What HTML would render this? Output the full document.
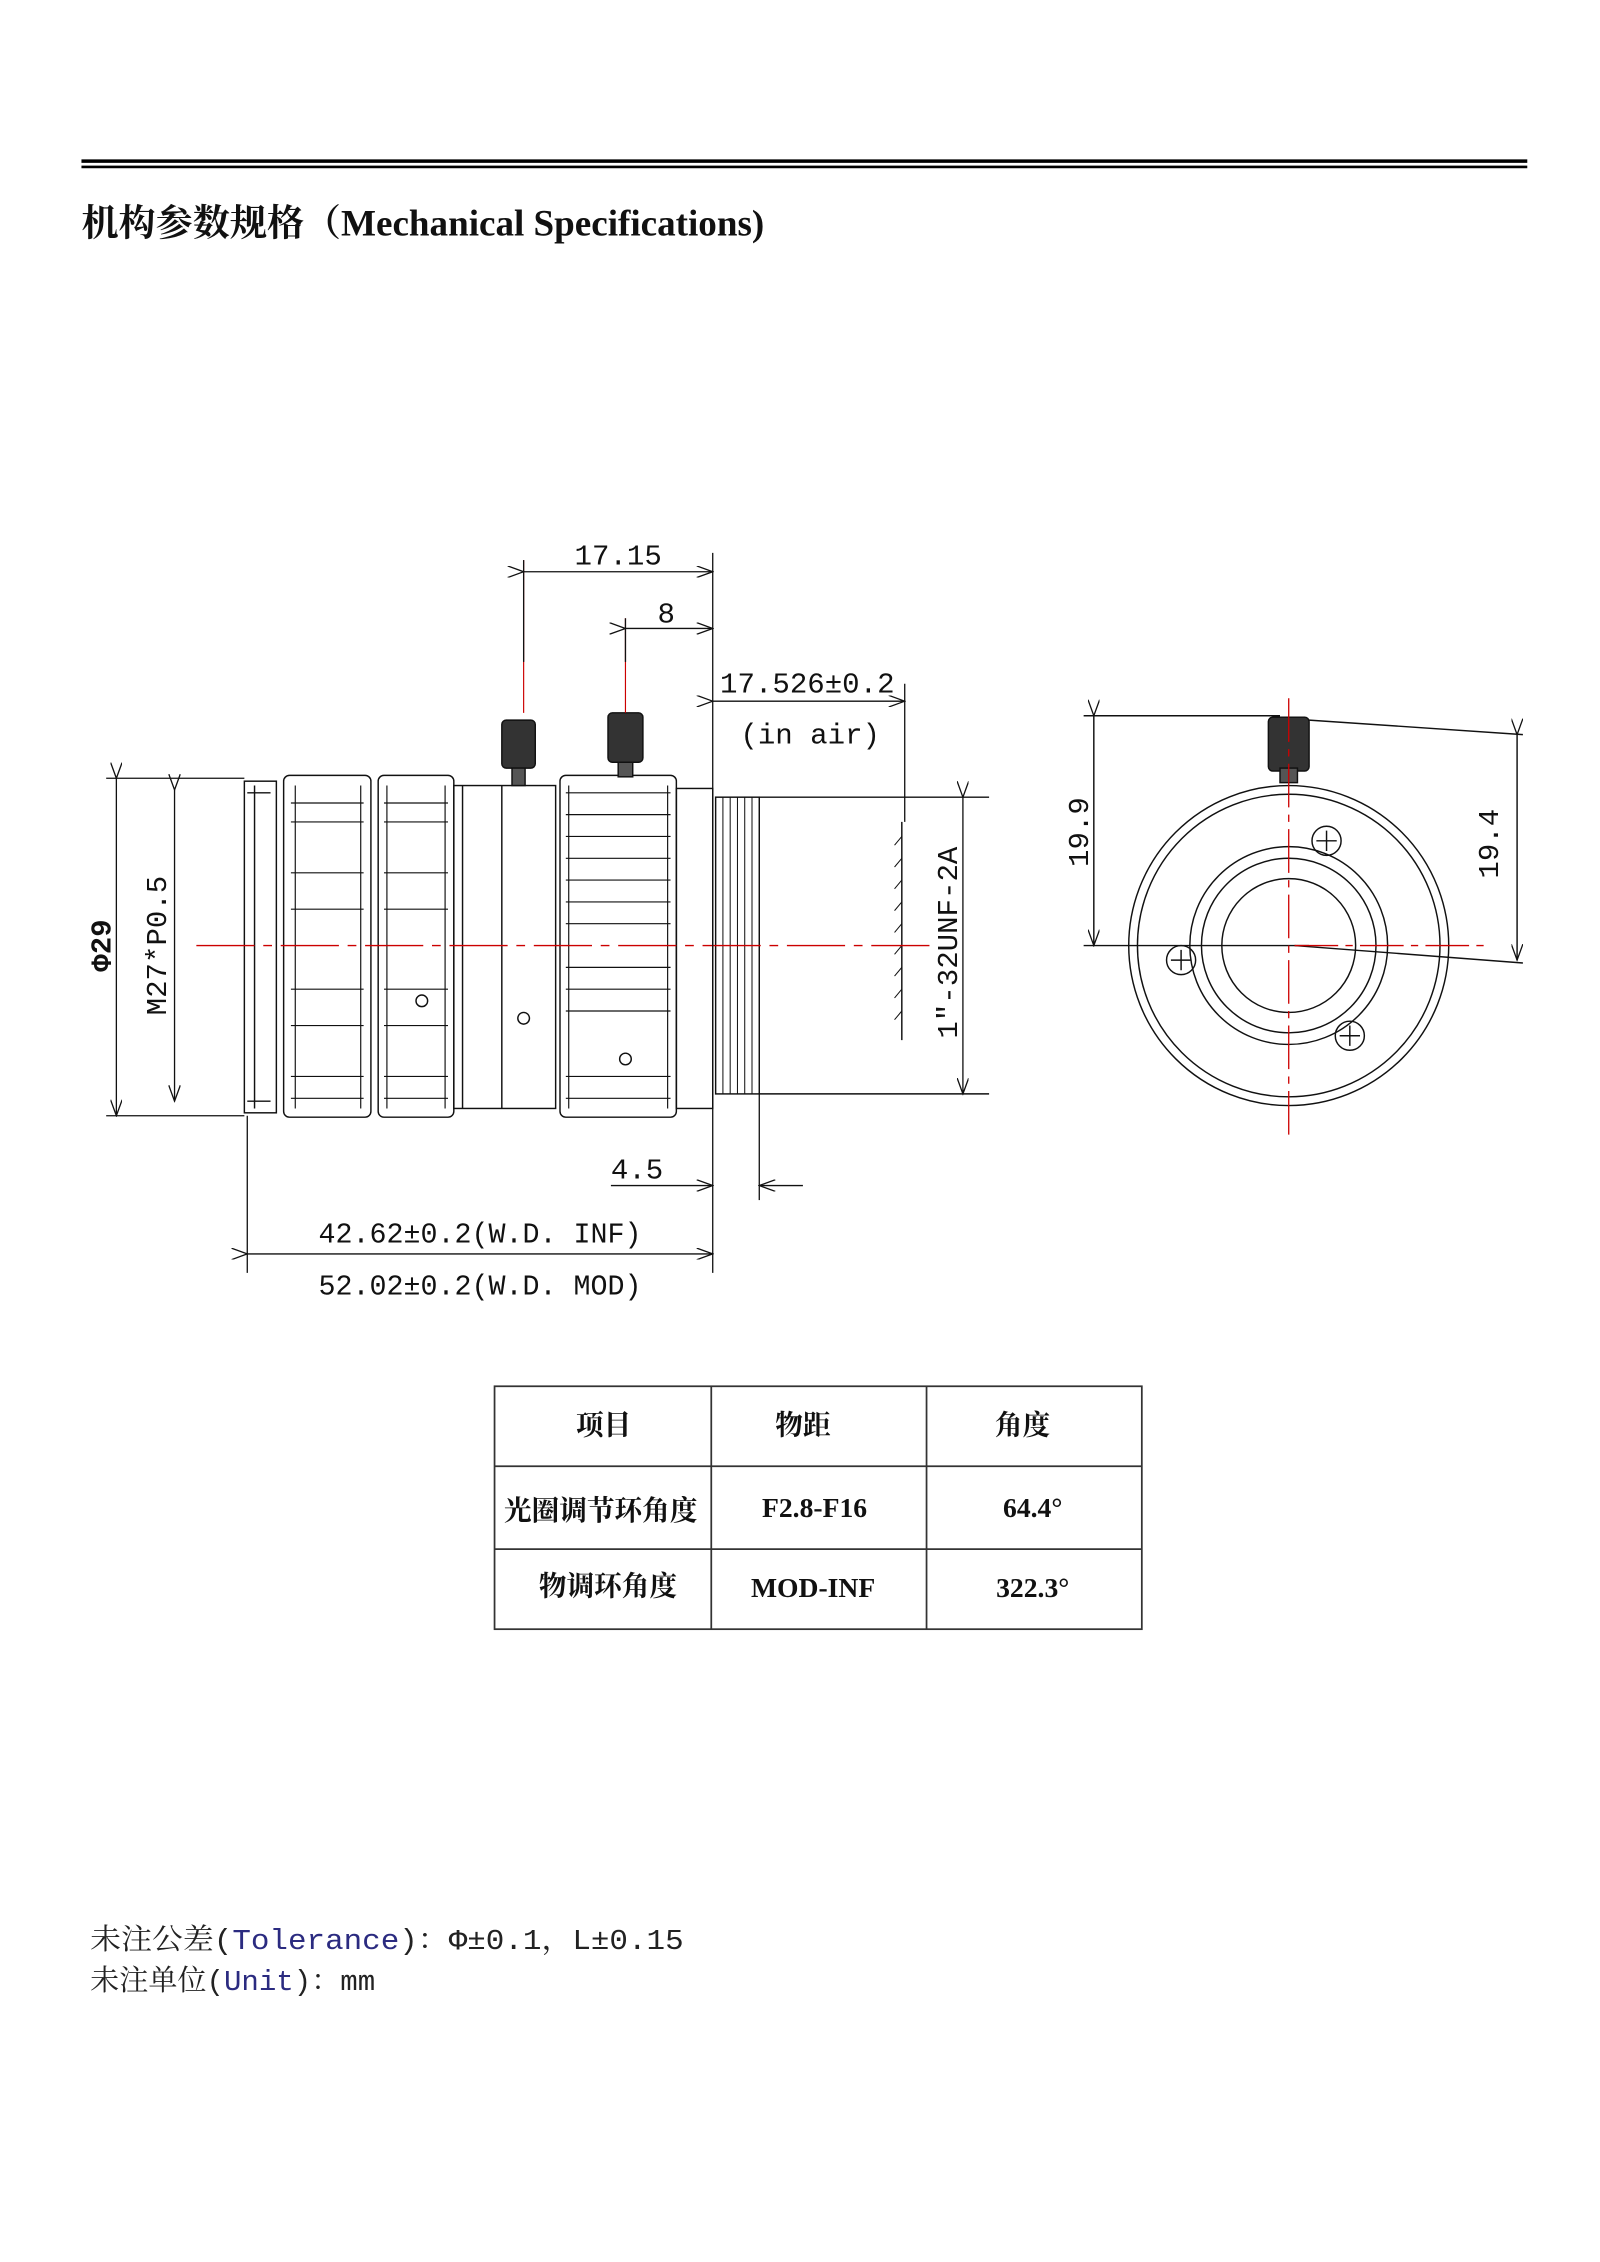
<!DOCTYPE html>
<html><head><meta charset="utf-8">
<style>
html,body{margin:0;padding:0;background:#fff;}
svg{display:block;}
.d{font-family:"Liberation Mono","DejaVu Sans Mono",monospace;fill:#111;}
.c{font-family:"Liberation Serif","Noto Serif CJK SC",serif;font-weight:bold;fill:#111;}
</style></head>
<body>
<svg width="1600" height="2262" viewBox="0 0 1100 1555" xmlns="http://www.w3.org/2000/svg">
<defs>
<marker id="a" markerWidth="12" markerHeight="8" refX="11" refY="4" orient="auto" markerUnits="userSpaceOnUse">
<path d="M0,0 L11,4 L0,8" fill="none" stroke="#111" stroke-width="0.9"/></marker>
</defs>
<rect x="56" y="109.5" width="994" height="2.4" fill="#000"/>
<rect x="56" y="113.8" width="994" height="1.8" fill="#000"/>
<text x="56" y="162" class="c" font-size="25.5">机构参数规格（Mechanical Specifications)</text>

<g stroke="#111" stroke-width="1" fill="none">
<rect x="168" y="537" width="22" height="228"/>
<line x1="175" y1="540" x2="175" y2="762"/>
<path d="M170,545 L186,545 M170,757 L186,757"/>
<rect x="195" y="533" width="60" height="235" rx="4"/>
<rect x="260" y="533" width="52" height="235" rx="4"/>
<g stroke-width="0.8">
<path d="M200,552 H250 M200,565 H250 M200,600 H250 M200,625 H250 M200,680 H250 M200,705 H250 M200,740 H250 M200,755 H250"/>
<path d="M264,552 H308 M264,565 H308 M264,600 H308 M264,625 H308 M264,680 H308 M264,705 H308 M264,740 H308 M264,755 H308"/>
<path d="M203,540 V762 M248,540 V762 M266,540 V762 M306,540 V762"/>
</g>
<rect x="312" y="540" width="70" height="222"/>
<line x1="345" y1="540" x2="345" y2="762"/>
<line x1="318" y1="540" x2="318" y2="762"/>
<rect x="385" y="533" width="80" height="235" rx="4"/>
<g stroke-width="0.8">
<path d="M389,545 H461 M389,560 H461 M389,575 H461 M389,590 H461 M389,605 H461 M389,620 H461 M389,635 H461 M389,665 H461 M389,680 H461 M389,695 H461 M389,740 H461 M389,755 H461"/>
<path d="M391,540 V762 M459,540 V762"/>
</g>
<rect x="465" y="542" width="25" height="220"/>
<rect x="492" y="548" width="30" height="204"/>
<path d="M497,548 V752 M502,548 V752 M507,548 V752 M512,548 V752 M517,548 V752" stroke-width="0.7"/>
<line x1="522" y1="548" x2="680" y2="548"/>
<line x1="522" y1="752" x2="680" y2="752"/>
<circle cx="290" cy="688" r="4"/><circle cx="360" cy="700" r="4"/><circle cx="430" cy="728" r="4"/>
<rect x="345" y="495" width="23" height="33" rx="3" fill="#333"/>
<rect x="352" y="528" width="9" height="12" fill="#555"/>
<rect x="418" y="490" width="24" height="34" rx="3" fill="#333"/>
<rect x="425" y="524" width="10" height="10" fill="#555"/>
<line x1="620" y1="565" x2="620" y2="715"/>
<path d="M620,575 l-5,6 M620,590 l-5,6 M620,605 l-5,6 M620,620 l-5,6 M620,635 l-5,6 M620,650 l-5,6 M620,665 l-5,6 M620,680 l-5,6 M620,695 l-5,6" stroke-width="0.7"/>
</g>
<line x1="135" y1="650" x2="640" y2="650" stroke="#c00" stroke-width="1" stroke-dasharray="40,6,6,6"/>
<line x1="360" y1="385" x2="360" y2="490" stroke="#c00" stroke-width="0.8"/>
<line x1="430" y1="425" x2="430" y2="490" stroke="#c00" stroke-width="0.8"/>

<g stroke="#111" stroke-width="0.9" fill="none">
<line x1="360" y1="385" x2="360" y2="455"/>
<line x1="430" y1="425" x2="430" y2="455"/>
<line x1="490" y1="380" x2="490" y2="875"/>
<line x1="360" y1="393" x2="490" y2="393" marker-start="url(#a)" marker-end="url(#a)"/>
<line x1="430" y1="432" x2="490" y2="432" marker-start="url(#a)" marker-end="url(#a)"/>
<line x1="622" y1="470" x2="622" y2="565"/>
<line x1="490" y1="482" x2="622" y2="482" marker-start="url(#a)" marker-end="url(#a)"/>
<line x1="73" y1="535" x2="168" y2="535"/>
<line x1="73" y1="767" x2="168" y2="767"/>
<line x1="80" y1="535" x2="80" y2="767" marker-start="url(#a)" marker-end="url(#a)"/>
<line x1="120" y1="543" x2="120" y2="757" marker-start="url(#a)" marker-end="url(#a)"/>
<line x1="662" y1="548" x2="662" y2="752" marker-start="url(#a)" marker-end="url(#a)"/>
<line x1="522" y1="752" x2="522" y2="825"/>
<line x1="420" y1="815" x2="490" y2="815" marker-end="url(#a)"/>
<line x1="552" y1="815" x2="522" y2="815" marker-end="url(#a)"/>
<line x1="170" y1="767" x2="170" y2="875"/>
<line x1="170" y1="862" x2="490" y2="862" marker-start="url(#a)" marker-end="url(#a)"/>
</g>
<g class="d" font-size="20">
<text x="425" y="388" text-anchor="middle">17.15</text>
<text x="458" y="428" text-anchor="middle">8</text>
<text x="555" y="476" text-anchor="middle">17.526±0.2</text>
<text x="557" y="511" text-anchor="middle">(in air)</text>
<text x="438" y="810" text-anchor="middle">4.5</text>
<text x="330" y="854" text-anchor="middle" textLength="222" lengthAdjust="spacingAndGlyphs">42.62±0.2(W.D. INF)</text>
<text x="330" y="890" text-anchor="middle" textLength="222" lengthAdjust="spacingAndGlyphs">52.02±0.2(W.D. MOD)</text>
<text transform="translate(76,650) rotate(-90)" text-anchor="middle" font-weight="bold">Φ29</text>
<text transform="translate(114,650) rotate(-90)" text-anchor="middle">M27*P0.5</text>
<text transform="translate(658,648) rotate(-90)" text-anchor="middle">1″-32UNF-2A</text>
<text transform="translate(748,572) rotate(-90)" text-anchor="middle">19.9</text>
<text transform="translate(1030,580) rotate(-90)" text-anchor="middle">19.4</text>
</g>

<g stroke="#111" stroke-width="1" fill="none">
<circle cx="886" cy="650" r="110"/>
<circle cx="886" cy="650" r="104"/>
<circle cx="886" cy="650" r="68"/>
<circle cx="886" cy="650" r="60"/>
<circle cx="886" cy="650" r="46"/>
<circle cx="912" cy="578" r="10"/><path d="M905,578 h14 M912,571 v14"/>
<circle cx="812" cy="660" r="10"/><path d="M805,660 h14 M812,653 v14"/>
<circle cx="928" cy="712" r="10"/><path d="M921,712 h14 M928,705 v14"/>
<rect x="872" y="493" width="28" height="37" rx="3" fill="#333"/>
<rect x="880" y="528" width="12" height="10" fill="#555"/>
<line x1="745" y1="492" x2="880" y2="492"/>
<line x1="752" y1="492" x2="752" y2="650" marker-start="url(#a)" marker-end="url(#a)"/>
<line x1="745" y1="650" x2="900" y2="650"/>
<line x1="900" y1="495" x2="1047" y2="505"/>
<line x1="890" y1="650" x2="1047" y2="662"/>
<line x1="1043" y1="505" x2="1043" y2="660" marker-start="url(#a)" marker-end="url(#a)"/>
</g>
<line x1="886" y1="480" x2="886" y2="780" stroke="#c00" stroke-width="0.9" stroke-dasharray="30,5,5,5"/>
<line x1="890" y1="650" x2="1020" y2="650" stroke="#c00" stroke-width="0.9" stroke-dasharray="30,5,5,5"/>

<g stroke="#333" stroke-width="1.2" fill="none">
<rect x="340" y="953" width="445" height="167"/>
<line x1="489" y1="953" x2="489" y2="1120"/>
<line x1="637" y1="953" x2="637" y2="1120"/>
<line x1="340" y1="1008" x2="785" y2="1008"/>
<line x1="340" y1="1065" x2="785" y2="1065"/>
</g>
<g class="c" font-size="19" text-anchor="middle">
<text x="415" y="986">项目</text>
<text x="552" y="986">物距</text>
<text x="703" y="986">角度</text>
<text x="413" y="1045">光圈调节环角度</text>
<text x="560" y="1043">F2.8-F16</text>
<text x="710" y="1043">64.4°</text>
<text x="418" y="1097">物调环角度</text>
<text x="559" y="1098">MOD-INF</text>
<text x="710" y="1098">322.3°</text>
</g>

<g font-family="'Liberation Mono','Noto Serif CJK SC',monospace" font-size="20" fill="#222">
<text x="62" y="1340" textLength="408" lengthAdjust="spacingAndGlyphs">未注公差(<tspan fill="#2b2b80">Tolerance</tspan>)：Φ±0.1，L±0.15</text>
<text x="62" y="1368">未注单位(<tspan fill="#2b2b80">Unit</tspan>)：mm</text>
</g>
</svg>
</body></html>
